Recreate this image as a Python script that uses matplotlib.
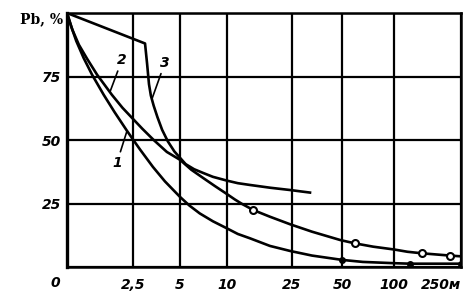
import numpy as np
import matplotlib.pyplot as plt

# distance axis (non-uniform scale)
x_ticks = [0, 2.5, 5, 10, 25, 50, 100, 250]
x_tick_pos = [0, 66, 113, 160, 225, 275, 327, 394]
x_labels = ['', '2,5', '5', '10', '25', '50', '100', '250м']
y_ticks = [0, 25, 50, 75, 100]
y_labels = ['', '25', '50', '75', '']

# curve 1
x1 = [0, 0.15, 0.35, 0.63, 0.95, 1.39, 1.8, 2.26, 2.5, 2.87, 3.56, 4.2, 5, 6, 7.1, 8.5, 10,
      12.5, 15.3, 19.9, 24.6, 35, 50, 70, 100, 136, 250]
y1 = [100, 95, 89, 82.3, 75.7, 67.8, 61, 53.8, 50.2, 46.3, 39.4, 33.7, 27.6, 24.2, 21.1, 18,
      15.2, 13, 11.3, 8.3, 6.3, 4.5, 2.8, 2.0, 1.5, 1.3, 1.3]
x1_dots = [50, 136, 250]
y1_dots = [2.8, 1.3, 1.3]

# curve 2
x2 = [0, 0.2, 0.45, 0.76, 1.14, 1.7, 2.1, 2.5, 3.0, 3.6, 4.3, 5, 6.2, 7.48, 8.7, 10, 11.8,
      13.5, 16.1, 19.9, 24.6, 35, 49.2, 62.5, 80, 100, 130, 162, 225, 250]
y2 = [100, 93.5, 87.5, 82, 75.7, 67.8, 62.7, 58.3, 54.4, 50, 45.3, 42.2, 38.3, 35, 31.9, 28.7,
      26.6, 24.8, 22.4, 19.8, 16.8, 13.9, 10.6, 9.3, 8.0, 6.9, 6.0, 5.4, 4.5, 4.2]
x2_circles = [16.1, 62.5, 162, 225]
y2_circles = [22.4, 9.3, 5.4, 4.5]

# curve 3
x3 = [0, 3.14, 3.25, 3.35, 3.45, 3.6, 3.8, 4.05, 4.35, 4.7, 5, 5.6, 6.5, 7.48, 8.5, 10, 12.5,
      15.3, 20, 24.6, 29, 34]
y3 = [100, 88, 80, 72, 67.5, 63.5, 59, 54, 49.5, 45.5, 43, 40.5, 38.5, 37, 35.5, 34, 33,
      32.3, 31.2, 30.3, 29.8, 29.3]


def fwd(v):
    return np.interp(v, x_ticks, x_tick_pos)


def inv(v):
    return np.interp(v, x_tick_pos, x_ticks)


fig = plt.figure(figsize=(4.75, 3.01), dpi=100)
ax = fig.add_axes([67 / 475, 34 / 301, 394 / 475, 254 / 301])
ax.set_xscale('function', functions=(fwd, inv))
ax.set_xlim(0, 250)
ax.set_ylim(0, 100)

lab_font = dict(fontsize=10, fontstyle='italic', fontweight='bold', family='DejaVu Sans')

ax.set_xticks(x_ticks)
ax.set_xticklabels(x_labels, **lab_font)
ax.set_yticks(y_ticks)
ax.set_yticklabels(y_labels, **lab_font)
ax.xaxis.get_ticklabels()[-1].set_horizontalalignment('right')
ax.tick_params(length=0)
ax.tick_params(axis='x', pad=8)
ax.tick_params(axis='y', pad=4)
ax.minorticks_off()
ax.grid(True, color='black', lw=1.6)
for s in ax.spines.values():
    s.set_linewidth(1.8)
ax.spines['left'].set_linewidth(2.4)

ax.plot(x1, y1, color='black', lw=1.9, solid_joinstyle='round')
ax.plot(x2, y2, color='black', lw=1.9, solid_joinstyle='round')
ax.plot(x3, y3, color='black', lw=1.9, solid_joinstyle='round')
ax.plot(x1_dots, y1_dots, 'o', color='black', ms=4)
ax.plot(x2_circles, y2_circles, 'o', mfc='white', mec='black', mew=1.5, ms=5)

arrow = dict(arrowstyle='-', color='black', lw=1.2, shrinkA=1, shrinkB=0)
ax.annotate('1', xy=(2.27, 53.5), xytext=(1.89, 41), ha='center', va='center',
            arrowprops=arrow, **lab_font)
ax.annotate('2', xy=(1.63, 69), xytext=(2.08, 81.5), ha='center', va='center',
            arrowprops=arrow, **lab_font)
ax.annotate('3', xy=(3.5, 66), xytext=(4.2, 80.5), ha='center', va='center',
            arrowprops=arrow, **lab_font)

fig.text(55 / 475, 1 - 283 / 301, '0', ha='center', va='center', **lab_font)
fig.text(63 / 475, 1 - 19 / 301, 'Pb, %', ha='right', va='center', fontsize=10,
         fontweight='bold', family='DejaVu Serif')

fig.savefig('out.png', dpi=100)
